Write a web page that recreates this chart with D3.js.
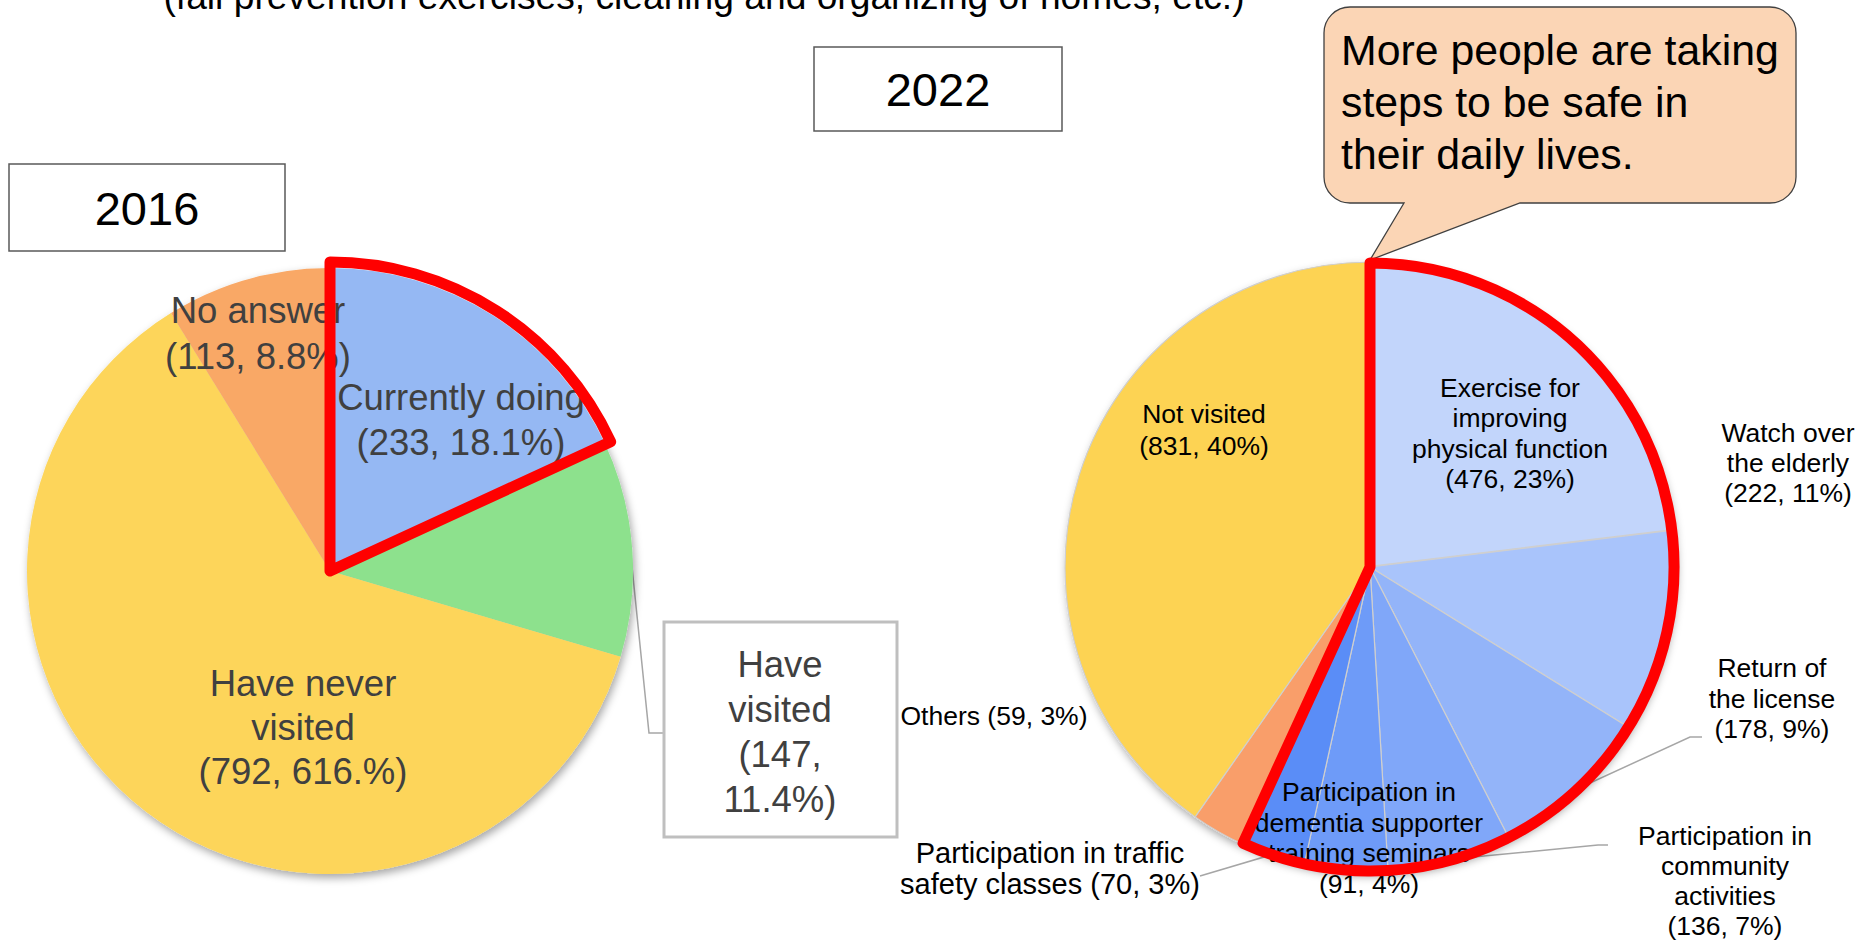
<!DOCTYPE html>
<html>
<head>
<meta charset="utf-8">
<script src="https://cdn.jsdelivr.net/npm/d3@7/dist/d3.min.js"></script>
<style>
  html, body { margin: 0; padding: 0; background: #ffffff; }
  svg { display: block; }
  text { font-family: "Liberation Sans", Arial, Helvetica, sans-serif; }
</style>
</head>
<body>
<svg id="chart" width="1860" height="944"></svg>
<script>
// ---------------- DATA ----------------
const titleText = "(fall prevention exercises,  cleaning and organizing of homes, etc.)";
const yearLabels = ["2016", "2022"];
const calloutLines = ["More people are taking", "steps to be safe in", "their daily lives."];

// 2016
const leftCategories = ["Currently doing", "Have visited", "Have never visited", "No answer"];
const leftValues = [233, 147, 792, 113];
const leftLabelLines = [
  ["Currently doing", "(233, 18.1%)"],
  ["Have", "visited", "(147,", "11.4%)"],
  ["Have never", "visited", "(792, 616.%)"],
  ["No answer", "(113, 8.8%)"]
];
const leftColors = ["#95B8F3", "#8DE18D", "#FDD55A", "#F9A866"];

// 2022
const rightCategories = [
  "Exercise for improving physical function",
  "Watch over the elderly",
  "Return of the license",
  "Participation in community activities",
  "Participation in dementia supporter training seminars",
  "Participation in traffic safety classes",
  "Others",
  "Not visited"
];
const rightValues = [476, 222, 178, 136, 91, 70, 59, 831];
const rightLabelLines = [
  ["Exercise for", "improving", "physical function", "(476, 23%)"],
  ["Watch over", "the elderly", "(222, 11%)"],
  ["Return of", "the license", "(178, 9%)"],
  ["Participation in", "community", "activities", "(136, 7%)"],
  ["Participation in", "dementia supporter", "training seminars", "(91, 4%)"],
  ["Participation in traffic", "safety classes (70, 3%)"],
  ["Others (59, 3%)"],
  ["Not visited", "(831, 40%)"]
];
const rightColors = ["#C2D5FB", "#A9C4FB", "#93B4F9", "#80A7F9", "#6E9BF8", "#5A8DF7", "#F99E6B", "#FDD352"];
const rightHighlightCount = 6; // slices enclosed by the red outline

// ---------------- LAYOUT ----------------
const leftPie = { cx: 330, cy: 571, r: 303 };
const rightPie = { cx: 1370, cy: 567, r: 305 };

// label anchors: [x, first baseline, line spacing, font size]
const leftLabelPos = [
  [461, 410, 45, 36.5],
  [780, 677, 45, 36.5],
  [303, 696, 44, 36.5],
  [258, 323, 46, 36.5]
];
const rightLabelPos = [
  [1510, 397, 30.3, 26.5],
  [1788, 442, 30, 26.5],
  [1772, 677, 30.5, 26.5],
  [1725, 845, 30, 26.5],
  [1369, 801, 30.5, 26.5],
  [1050, 863, 31, 29],
  [994, 725, 30, 26.5],
  [1204, 423, 32, 26.5]
];

const svg = d3.select("#chart");
const defs = svg.append("defs");
const f = defs.append("filter").attr("id", "shadow")
  .attr("x", "-10%").attr("y", "-10%").attr("width", "120%").attr("height", "125%");
f.append("feDropShadow").attr("dx", 2).attr("dy", 4).attr("stdDeviation", 4)
  .attr("flood-color", "#000").attr("flood-opacity", 0.35);

// title (cut at top, as in the source)
svg.append("text").attr("x", 704).attr("y", 9)
  .attr("text-anchor", "middle").attr("font-size", 37.2).attr("fill", "#000")
  .text(titleText);

// year boxes
const yearBoxes = [
  { x: 9, y: 164, w: 276, h: 87, label: yearLabels[0] },
  { x: 814, y: 47, w: 248, h: 84, label: yearLabels[1] }
];
yearBoxes.forEach(b => {
  svg.append("rect").attr("x", b.x).attr("y", b.y).attr("width", b.w).attr("height", b.h)
    .attr("fill", "#fff").attr("stroke", "#595959").attr("stroke-width", 1.5);
  svg.append("text").attr("x", b.x + b.w / 2).attr("y", b.y + b.h / 2 + 17)
    .attr("text-anchor", "middle").attr("font-size", 47).attr("fill", "#000").text(b.label);
});

// callout
(function () {
  const x0 = 1324, y0 = 7, x1 = 1796, y1 = 203, r = 26;
  const a = 1404, b = 1520, tx = 1370, ty = 260;
  const p = `M${x0 + r},${y0} H${x1 - r} A${r},${r} 0 0 1 ${x1},${y0 + r} V${y1 - r} A${r},${r} 0 0 1 ${x1 - r},${y1} H${b} L${tx},${ty} L${a},${y1} H${x0 + r} A${r},${r} 0 0 1 ${x0},${y1 - r} V${y0 + r} A${r},${r} 0 0 1 ${x0 + r},${y0} Z`;
  svg.append("path").attr("d", p).attr("fill", "#FBD5B5").attr("stroke", "#404040").attr("stroke-width", 1.3);
  calloutLines.forEach((t, i) => {
    svg.append("text").attr("x", 1341).attr("y", 65 + i * 52)
      .attr("font-size", 42.8).attr("fill", "#000").text(t);
  });
})();

const pieGen = d3.pie().sort(null).value(d => d);

function pointAt(p, angle, rad) {
  return [p.cx + rad * Math.sin(angle), p.cy - rad * Math.cos(angle)];
}
function midAngle(a) { return (a.startAngle + a.endAngle) / 2; }

function drawLabel(g, lines, pos, color) {
  const t = g.append("text").attr("text-anchor", "middle").attr("font-size", pos[3]).attr("fill", color);
  lines.forEach((l, i) => {
    t.append("tspan").attr("x", pos[0]).attr("y", pos[1] + i * pos[2]).text(l);
  });
}

// ---------------- LEFT PIE (2016) ----------------
const leftArcs = pieGen(leftValues);
const lArc = d3.arc().innerRadius(0).outerRadius(leftPie.r);
const lg = svg.append("g");

// leader for "Have visited"
{
  const s = pointAt(leftPie, midAngle(leftArcs[1]), leftPie.r - 2);
  const pts = [s, [649, 733], [664, 733]];
  lg.append("path").attr("d", d3.line()(pts)).attr("fill", "none")
    .attr("stroke", "#A6A6A6").attr("stroke-width", 1.5);
}

lg.append("g").attr("transform", `translate(${leftPie.cx},${leftPie.cy})`)
  .attr("filter", "url(#shadow)")
  .selectAll("path").data(leftArcs).join("path")
  .attr("d", lArc).attr("fill", (d, i) => leftColors[i]);

// "Have visited" box
lg.append("rect").attr("x", 664).attr("y", 622).attr("width", 233).attr("height", 215)
  .attr("fill", "#fff").attr("stroke", "#BFBFBF").attr("stroke-width", 3);

leftLabelLines.forEach((lines, i) => drawLabel(lg, lines, leftLabelPos[i], "#404040"));

// red outline for "Currently doing"
lg.append("path").attr("transform", `translate(${leftPie.cx},${leftPie.cy})`)
  .attr("d", d3.arc()({ innerRadius: 0, outerRadius: leftPie.r + 6, startAngle: leftArcs[0].startAngle, endAngle: leftArcs[0].endAngle }))
  .attr("fill", "none").attr("stroke", "#FF0000").attr("stroke-width", 11).attr("stroke-linejoin", "round");

// ---------------- RIGHT PIE (2022) ----------------
const rightArcs = pieGen(rightValues);
const rArc = d3.arc().innerRadius(0).outerRadius(rightPie.r);
const rg = svg.append("g");

// leaders
const leaderEnds = {
  2: [[1690, 737], [1702, 737]],
  3: [[1598, 845], [1608, 845]],
  5: [[1200, 876]]
};
Object.keys(leaderEnds).forEach(k => {
  const s = pointAt(rightPie, midAngle(rightArcs[+k]), rightPie.r - 2);
  rg.append("path").attr("d", d3.line()([s, ...leaderEnds[k]])).attr("fill", "none")
    .attr("stroke", "#A6A6A6").attr("stroke-width", 1.5);
});

rg.append("g").attr("transform", `translate(${rightPie.cx},${rightPie.cy})`)
  .attr("filter", "url(#shadow)")
  .selectAll("path").data(rightArcs).join("path")
  .attr("d", rArc).attr("fill", (d, i) => rightColors[i])
  .attr("stroke", "#CFCFCF").attr("stroke-width", (d, i) => i === 0 ? 2.5 : 1.2);

rightLabelLines.forEach((lines, i) => drawLabel(rg, lines, rightLabelPos[i], "#000"));

// red outline around the blue slices
rg.append("path").attr("transform", `translate(${rightPie.cx},${rightPie.cy})`)
  .attr("d", d3.arc()({ innerRadius: 0, outerRadius: rightPie.r - 1, startAngle: rightArcs[0].startAngle, endAngle: rightArcs[rightHighlightCount - 1].endAngle }))
  .attr("fill", "none").attr("stroke", "#FF0000").attr("stroke-width", 11).attr("stroke-linejoin", "round");
</script>
</body>
</html>
